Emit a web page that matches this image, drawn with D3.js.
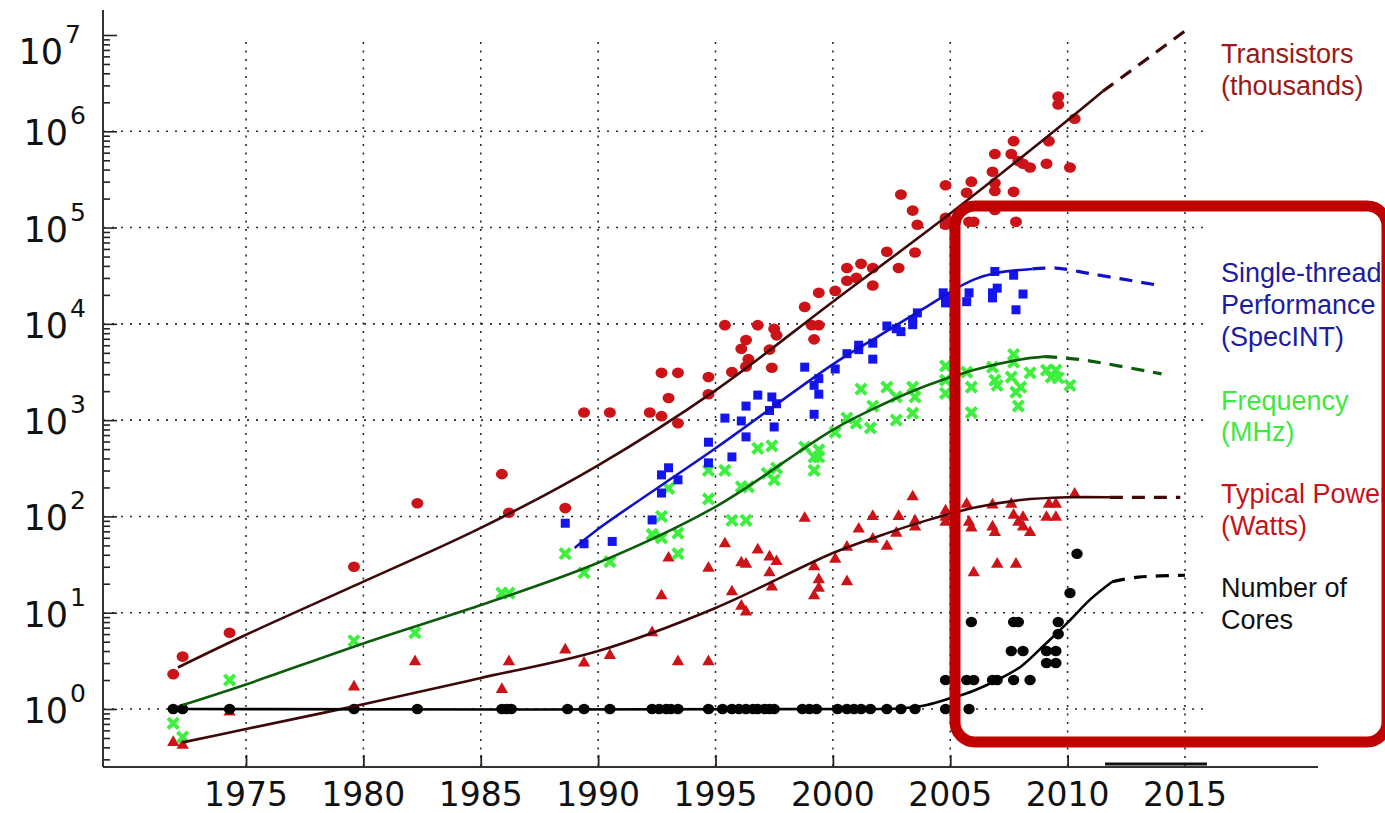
<!DOCTYPE html>
<html><head><meta charset="utf-8">
<script src="https://cdn.jsdelivr.net/npm/d3@7"></script>
<style>body{margin:0;background:#fff}svg{display:block}</style>
</head><body><svg id="c" width="1385" height="813"></svg>
<script>
// ---------- DATA ----------
const yearTicks = [1975, 1980, 1985, 1990, 1995, 2000, 2005, 2010, 2015];
const decadeExponents = [0, 1, 2, 3, 4, 5, 6, 7];

const legendLabels = [
  ["Transistors", "(thousands)"],
  ["Single-thread", "Performance", "(SpecINT)"],
  ["Frequency", "(MHz)"],
  ["Typical Power", "(Watts)"],
  ["Number of", "Cores"]
];

// fitted trend curves (solid) and projections (dashed)
const transistorFitYears  = [1972.1, 1975, 1980, 1985, 1990, 1995, 2000, 2005, 2010, 2011.5];
const transistorFitValues = [2.7, 5.9, 21, 76, 340, 2040, 17000, 140000, 1.3e6, 2.6e6];
const transistorProjYears  = [2011.5, 2015];
const transistorProjValues = [2.6e6, 1.1e7];

const singleFitYears  = [1989.0, 1990, 1995, 2000, 2002, 2004, 2005, 2006, 2007, 2008.5];
const singleFitValues = [47, 74, 510, 3800, 7600, 15100, 21400, 28800, 33900, 37200];
const singleProjYears  = [2008.5, 2009.5, 2011, 2013.9];
const singleProjValues = [37200, 38000, 33100, 25100];

const freqFitYears  = [1972.3, 1975, 1980, 1985, 1990, 1995, 2000, 2002, 2004, 2006, 2008, 2009];
const freqFitValues = [1.1, 1.8, 4.8, 12, 33, 126, 794, 1410, 2290, 3310, 4270, 4570];
const freqProjYears  = [2009, 2010.5, 2014];
const freqProjValues = [4570, 4270, 3020];

const powerFitYears  = [1972.3, 1975, 1980, 1985, 1990, 1995, 2000, 2002, 2004, 2006, 2008, 2010, 2011.8];
const powerFitValues = [0.45, 0.62, 1.12, 2.1, 4.0, 11.2, 41.7, 63, 91, 123, 148, 158, 158];
const powerProjYears  = [2011.8, 2014.8];
const powerProjValues = [158, 158];

const coresFitYears  = [1972.2, 2002, 2003, 2004, 2005, 2006, 2007, 2008, 2009, 2010, 2011, 2011.9];
const coresFitValues = [1, 1, 1.02, 1.1, 1.29, 1.55, 2.0, 2.75, 4.6, 7.9, 14, 21];
const coresProjYears  = [2011.9, 2013, 2015];
const coresProjValues = [21, 23.4, 24.5];

// scatter data
const transistorYears = [1971.9,1972.3,1974.3,1979.6,1982.3,1985.9,1986.2,1988.6,1989.4,1990.5,1992.2,1992.7,1993.4,1992.7,1993.4,1993.0,1994.7,1994.7,1995.4,1995.7,1996.1,1996.3,1996.4,1996.3,1996.8,1997.3,1997.5,1997.6,1997.4,1998.8,1999.1,1999.4,1999.2,1999.4,2000.1,2000.6,2000.6,2001.2,2001.0,2001.7,2001.7,2002.3,2002.8,2002.9,2003.4,2003.6,2003.5,2004.8,2004.8,2004.8,2005.7,2005.9,2005.8,2006.0,2006.9,2006.8,2006.9,2006.9,2006.9,2007.6,2007.7,2007.7,2007.8,2007.9,2008.1,2008.4,2009.1,2009.2,2009.6,2009.6,2010.3,2010.1];
const transistorValues = [2.3,3.5,6.2,30,137,275,109,122,1200,1200,1200,1100,930,3100,3100,1700,2800,1860,9700,3160,5500,6800,4300,3600,9700,5400,8900,7600,3500,15000,9700,9700,6900,21000,22000,38000,28000,42000,30000,38000,25000,56000,38000,220000,150000,107000,55000,275000,126000,107000,230000,300000,115000,115000,580000,380000,290000,240000,152000,580000,790000,235000,115000,490000,460000,420000,460000,790000,2300000,1900000,1350000,420000];

const singleYears = [1988.6,1989.4,1990.6,1992.3,1992.7,1993.0,1993.4,1992.7,1994.7,1994.7,1995.4,1995.7,1996.1,1996.3,1996.3,1996.8,1997.3,1997.4,1997.5,1997.6,1998.8,1999.2,1999.4,1999.4,1999.2,2000.1,2000.6,2001.1,2001.1,2001.7,2001.7,2002.3,2002.7,2002.9,2003.4,2003.4,2003.6,2004.7,2004.8,2004.8,2005.8,2005.7,2006.9,2006.8,2007.0,2006.8,2007.7,2007.8,2008.1];
const singleValues = [85,52,55,92,270,320,240,175,590,360,1050,415,980,1400,670,1820,1260,1740,850,1480,3550,2300,2700,1860,1150,3400,4900,6000,5400,4300,6300,9500,8900,8300,11000,9800,13000,21000,18600,16500,21000,17000,35000,21000,23500,18600,32000,14000,20400];

const freqYears = [1971.9,1972.3,1974.3,1979.6,1982.2,1985.9,1986.2,1988.6,1989.4,1990.5,1992.3,1992.7,1992.7,1993.0,1993.4,1993.4,1994.7,1994.7,1995.4,1995.7,1996.3,1996.1,1996.4,1996.8,1997.4,1997.2,1997.5,1997.6,1998.8,1999.2,1999.4,1999.2,1999.4,2000.1,2000.6,2001.0,2001.2,2001.6,2001.7,2002.3,2002.7,2002.7,2003.4,2003.4,2003.5,2004.8,2004.8,2004.8,2005.7,2005.9,2005.9,2006.8,2006.9,2007.0,2007.7,2007.7,2007.6,2008.0,2007.8,2007.9,2008.4,2009.1,2009.3,2009.5,2009.6,2010.1];
const freqValues = [0.71,0.51,2.0,5.1,6.2,16,16,41,26,34,65,100,60,196,67,41,300,152,300,91,91,203,203,510,540,280,240,318,525,415,490,300,415,750,1050,930,2100,830,1400,2200,1000,1740,1180,2200,1740,3650,2600,1900,3150,2200,1200,3550,2600,2300,4800,4000,2800,2200,1950,1400,3100,3300,2800,3300,2750,2300];

const powerYears = [1971.9,1972.3,1974.3,1979.6,1982.2,1985.9,1986.2,1988.6,1989.4,1990.5,1992.3,1992.7,1993.0,1993.4,1994.7,1994.7,1995.4,1995.7,1996.1,1996.3,1996.1,1996.3,1996.8,1997.3,1997.6,1997.3,1997.4,1998.8,1999.2,1999.4,1999.4,1999.2,2000.1,2000.6,2000.6,2001.1,2001.7,2001.7,2002.3,2002.7,2002.8,2003.4,2003.5,2003.5,2004.8,2004.8,2004.8,2005.7,2005.8,2005.9,2006.0,2006.8,2006.8,2006.9,2007.0,2007.6,2007.7,2007.8,2007.9,2008.1,2008.1,2008.4,2009.1,2009.2,2009.5,2009.5,2010.3];
const powerValues = [0.45,0.42,0.93,1.7,3.1,1.6,3.1,4.1,3.0,3.6,6.2,15,37,3.1,29,3.1,52,16.5,33,32,11.7,10.2,45,38,34,26,18.5,96,30,22,18,15,36,48,21,74,100,58,49,67,100,160,90,78,114,98,87,134,87,76,26,132,78,68,32,134,103,32,87,98,78,68,98,134,134,98,170];

const coresYears = [1971.9,1972.3,1974.3,1979.6,1982.3,1985.9,1986.1,1986.3,1988.7,1989.4,1990.5,1992.3,1992.6,1992.9,1993.1,1993.4,1994.7,1995.3,1995.7,1996.0,1996.3,1996.6,1996.8,1997.1,1997.3,1997.5,1998.7,1999.0,1999.3,2000.2,2000.6,2000.9,2001.2,2001.6,2002.3,2002.9,2003.5,2004.8,2005.8,2004.8,2005.7,2006.0,2006.8,2007.0,2007.7,2008.4,2009.1,2009.5,2007.6,2008.1,2009.1,2009.5,2009.6,2005.9,2007.7,2007.9,2009.6,2010.1,2010.4];
const coresValues = [1,1,1,1,1,1,1,1,1,1,1,1,1,1,1,1,1,1,1,1,1,1,1,1,1,1,1,1,1,1,1,1,1,1,1,1,1,1,1,2,2,2,2,2,2,2,3,3,4,4,4,4,6,8,8,8,8,16,41];

// ---------- DRAWING ----------
const svg = d3.select('#c');
const x = d3.scaleLinear().domain([1975, 2015]).range([246, 1185]);
const y = d3.scaleLog().domain([1, 1e7]).range([709, 35]);
const left = 103, bottom = 767, gridRight = 1205, gridTop = 42;

const gridColor = '#2a2a2a';
svg.append('g').selectAll('line').data(decadeExponents.filter(e => e < 7)).join('line')
  .attr('x1', left).attr('x2', gridRight)
  .attr('y1', e => y(Math.pow(10, e))).attr('y2', e => y(Math.pow(10, e)))
  .attr('stroke', gridColor).attr('stroke-width', 1.6).attr('stroke-dasharray', '2,7');
svg.append('g').selectAll('line').data(yearTicks).join('line')
  .attr('x1', d => x(d)).attr('x2', d => x(d))
  .attr('y1', gridTop).attr('y2', bottom)
  .attr('stroke', gridColor).attr('stroke-width', 1.6).attr('stroke-dasharray', '2,6.5');

// x axis
const xAxis = d3.axisBottom(x).tickValues(yearTicks.filter(d => d < 2015)).tickSize(-12).tickFormat(d3.format('d'));
const gx = svg.append('g').attr('transform', `translate(0,${bottom})`).call(xAxis);
gx.select('.domain').remove();
gx.selectAll('.tick line').attr('stroke', '#222').attr('stroke-width', 1.8);
gx.selectAll('.tick text').remove();
svg.append('g').selectAll('text').data(yearTicks).join('text')
  .attr('x', d => x(d)).attr('y', 806).attr('text-anchor', 'middle')
  .attr('font-family', 'DejaVu Sans').attr('font-size', 33).attr('fill', '#111')
  .text(d => d);
svg.append('line').attr('x1', left).attr('x2', 1318).attr('y1', bottom).attr('y2', bottom)
  .attr('stroke', '#333').attr('stroke-width', 2);
svg.append('line').attr('x1', 1105).attr('x2', 1207).attr('y1', 764).attr('y2', 764)
  .attr('stroke', '#111').attr('stroke-width', 3);

// y axis
const minorVals = [];
for (let e = -1; e < 7; e++) for (let k = 2; k <= 9; k++) {
  const v = k * Math.pow(10, e);
  if (y(v) < bottom - 3) minorVals.push(v);
}
const yAxisMajor = d3.axisLeft(y).tickValues(decadeExponents.map(e => Math.pow(10, e))).tickSize(-14).tickFormat('');
const yAxisMinor = d3.axisLeft(y).tickValues(minorVals).tickSize(-7).tickFormat('');
const gy1 = svg.append('g').attr('transform', `translate(${left},0)`).call(yAxisMajor);
const gy2 = svg.append('g').attr('transform', `translate(${left},0)`).call(yAxisMinor);
[gy1, gy2].forEach(g => { g.select('.domain').remove(); g.selectAll('.tick line').attr('stroke', '#222').attr('stroke-width', 1.6); });
svg.append('line').attr('x1', left).attr('x2', left).attr('y1', 10).attr('y2', bottom)
  .attr('stroke', '#333').attr('stroke-width', 2);

const yl = svg.append('g').attr('font-family', 'DejaVu Sans').attr('fill', '#111');
decadeExponents.forEach(e => {
  const ty = y(Math.pow(10, e));
  const dy = e === 7 ? 15 : 0, dx = e === 7 ? -5 : 0;
  yl.append('text').attr('x', 68 + dx).attr('y', ty + 14 + dy).attr('text-anchor', 'end')
    .attr('font-size', 35).text('10');
  yl.append('text').attr('x', 70 + dx).attr('y', ty - 7 + dy).attr('font-size', 25).text(e);
});

// markers
const red = '#cc1418', blue = '#1414ee', green = '#3df03d';
const zip = (a, b) => a.map((d, i) => [d, b[i]]);
const pts = svg.append('g');
pts.selectAll('.tr').data(zip(transistorYears, transistorValues)).join('ellipse')
  .attr('cx', d => x(d[0])).attr('cy', d => y(d[1])).attr('rx', 6).attr('ry', 5.3).attr('fill', red);
pts.selectAll('.pw').data(zip(powerYears, powerValues)).join('path')
  .attr('transform', d => `translate(${x(d[0])},${y(d[1])})`)
  .attr('d', d3.symbol().type(d3.symbolTriangle).size(66)).attr('fill', red);
pts.selectAll('.fq').data(zip(freqYears, freqValues)).join('path')
  .attr('transform', d => `translate(${x(d[0])},${y(d[1])})`)
  .attr('d', 'M-5.2,-5.2L5.2,5.2M-5.2,5.2L5.2,-5.2').attr('stroke', green).attr('stroke-width', 4).attr('fill', 'none');
pts.selectAll('.st').data(zip(singleYears, singleValues)).join('rect')
  .attr('x', d => x(d[0]) - 4.5).attr('y', d => y(d[1]) - 4.5).attr('width', 9).attr('height', 9).attr('fill', blue);
pts.selectAll('.co').data(zip(coresYears, coresValues)).join('ellipse')
  .attr('cx', d => x(d[0])).attr('cy', d => y(d[1])).attr('rx', 5.7).attr('ry', 5.3).attr('fill', '#050505');

// trend lines
const line = d3.line().x(d => x(d[0])).y(d => y(d[1])).curve(d3.curveCatmullRom.alpha(0.5));
const maroon = '#3e0808';
const fits = [
  [transistorFitYears, transistorFitValues, transistorProjYears, transistorProjValues, maroon],
  [singleFitYears, singleFitValues, singleProjYears, singleProjValues, '#1010c8'],
  [freqFitYears, freqFitValues, freqProjYears, freqProjValues, '#0c5c0c'],
  [powerFitYears, powerFitValues, powerProjYears, powerProjValues, maroon],
  [coresFitYears, coresFitValues, coresProjYears, coresProjValues, '#000']
];
const lg = svg.append('g').attr('fill', 'none');
fits.forEach(([fy, fv, py, pv, c]) => {
  lg.append('path').attr('d', line(zip(fy, fv))).attr('stroke', c).attr('stroke-width', 2.6);
  lg.append('path').attr('d', line(zip(py, pv))).attr('stroke', c).attr('stroke-width', 3.2).attr('stroke-dasharray', '13,9');
});

// legend labels
const legendColors = ['#9a1818', '#1c1ca0', '#3fe83f', '#c4141a', '#111'];
const legendBaselines = [[63, 95], [282, 314, 346], [410, 441], [503, 535], [597, 629]];
const lt = svg.append('g').attr('font-family', 'Liberation Sans, Arial, sans-serif').attr('font-size', 27);
legendLabels.forEach((lines, i) => lines.forEach((s, j) => {
  lt.append('text').attr('x', 1221).attr('y', legendBaselines[i][j]).attr('fill', legendColors[i]).text(s);
}));

// highlight box
svg.append('rect').attr('x', 955).attr('y', 206).attr('width', 432).attr('height', 536)
  .attr('rx', 20).attr('fill', 'none').attr('stroke', '#c00000').attr('stroke-width', 11);
</script></body></html>
